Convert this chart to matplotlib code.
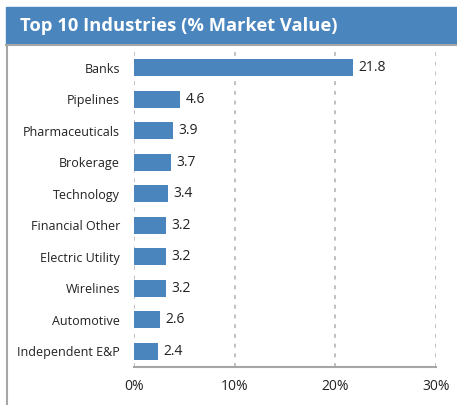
import matplotlib.pyplot as plt
from matplotlib.patches import Rectangle
from matplotlib.lines import Line2D

industries = ['Banks', 'Pipelines', 'Pharmaceuticals', 'Brokerage', 'Technology',
              'Financial Other', 'Electric Utility', 'Wirelines', 'Automotive',
              'Independent E&P']
weights = [21.8, 4.6, 3.9, 3.7, 3.4, 3.2, 3.2, 3.2, 2.6, 2.4]
xticks = [0, 10, 20, 30]

blue = '#4a86bd'
grey = '#a6a6a6'
plt.rcParams['font.family'] = ['Open Sans', 'DejaVu Sans']

W, H = 457, 405
fig = plt.figure(figsize=(W / 100, H / 100), dpi=100)

# header banner and frame
fig.patches.append(Rectangle((6 / W, 1 - 44 / H), 1 - 6 / W, 37 / H,
                             transform=fig.transFigure, color=blue, zorder=0))
fig.lines.append(Line2D([6 / W, 1], [1 - 44.5 / H] * 2, transform=fig.transFigure,
                        color=grey, lw=1.5))
fig.lines.append(Line2D([6.5 / W] * 2, [0, 1 - 44.5 / H], transform=fig.transFigure,
                        color=grey, lw=1.5))
fig.text(20 / W, 1 - 26 / H, 'Top 10 Industries (% Market Value)', color='white',
         fontsize=13.2, fontweight='bold', va='center', ha='left')

ax = fig.add_axes([134 / W, 1 - 367 / H, (436 - 134) / W, (367 - 52) / H])
y = range(len(industries))
ax.barh(y, weights, height=0.54, color=blue, zorder=3)
for yi, v in zip(y, weights):
    ax.text(v + 0.5, yi, f'{v:.1f}', va='center', ha='left', fontsize=10, color='#222222')

ax.set_xlim(0, 30)
ax.set_ylim(len(industries) - 0.5, -0.5)
ax.set_yticks(list(y))
ax.set_yticklabels(industries, fontsize=9, color='#222222')
ax.set_xticks(xticks)
ax.set_xticklabels([f'{t}%' for t in xticks], fontsize=10, color='#222222')
ax.tick_params(axis='y', length=0, pad=10)
ax.tick_params(axis='x', length=0, pad=9)
ax.grid(axis='x', color='#c0c0c0', linestyle=(0, (2, 3)), lw=1.4, zorder=0)
for s in ['top', 'right', 'left']:
    ax.spines[s].set_visible(False)
ax.spines['bottom'].set_color(grey)
ax.spines['bottom'].set_linewidth(1.5)

fig.savefig('out.png', dpi=100)
